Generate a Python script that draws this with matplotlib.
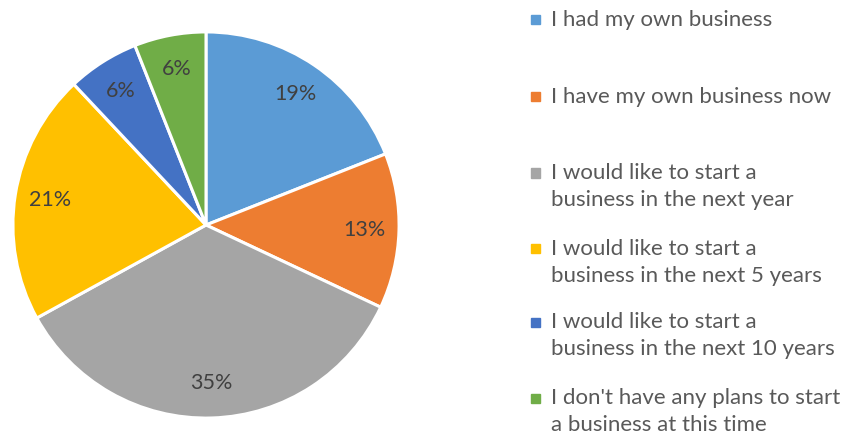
import matplotlib.pyplot as plt
from matplotlib.patches import Rectangle

labels = [
    "I had my own business",
    "I have my own business now",
    "I would like to start a\nbusiness in the next year",
    "I would like to start a\nbusiness in the next 5 years",
    "I would like to start a\nbusiness in the next 10 years",
    "I don't have any plans to start\na business at this time",
]
shares = [19, 13, 35, 21, 6, 6]
colors = ['#5B9BD5', '#ED7D31', '#A5A5A5', '#FFC000', '#4472C4', '#70AD47']

plt.rcParams['font.family'] = ['Liberation Sans Narrow', 'Lato', 'DejaVu Sans']

W, H = 847, 436
fig = plt.figure(figsize=(W / 100, H / 100), dpi=100)

# pie centre ~ (206, 225) px, radius ~195 px
cx, cy, r = 206, 225, 195
ax = fig.add_axes([(cx - r) / W, (H - cy - r) / H, 2 * r / W, 2 * r / H])
wedges, texts, autotexts = ax.pie(
    shares, colors=colors, startangle=90, counterclock=False,
    autopct='%1.0f%%', pctdistance=0.82,
    wedgeprops=dict(edgecolor='white', linewidth=2.2),
    textprops=dict(color='#404040', fontsize=15.5))
ax.set_xlim(-1.01, 1.01)
ax.set_ylim(-1.01, 1.01)
ax.set_aspect('equal')
ax.axis('off')

# legend drawn by hand so the marker sits on the first line
first_line_y = [20, 97, 173, 249, 322, 398]
line_step = 27
for lab, col, y0 in zip(labels, colors, first_line_y):
    fig.patches.append(Rectangle((531 / W, (H - y0 - 4.5) / H), 9 / W, 9 / H,
                                 transform=fig.transFigure, color=col))
    for i, line in enumerate(lab.split('\n')):
        fig.text(551 / W, (H - y0 - i * line_step) / H, line,
                 fontsize=16, color='#595959', va='center', ha='left')

fig.savefig('out.png', dpi=100)
